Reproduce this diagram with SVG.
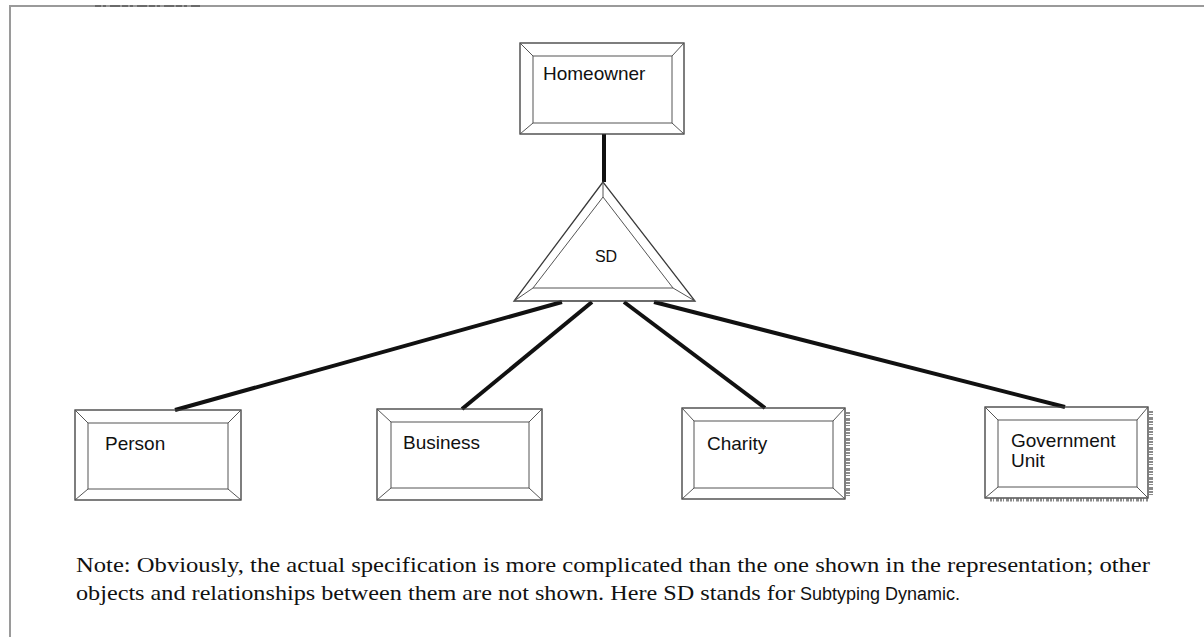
<svg xmlns="http://www.w3.org/2000/svg" width="1204" height="637" viewBox="0 0 1204 637">
  <style>
    .edge { fill: none; stroke: #3a3a3a; stroke-width: 1.3; }
    .bevel { fill: none; stroke: #555; stroke-width: 1; }
    .link { stroke: #111; stroke-width: 4; stroke-linecap: butt; }
    .label { font-family: "Liberation Sans", Arial, sans-serif; font-size: 19px; fill: #111; }
    .note { font-family: "Liberation Serif", "Times New Roman", serif; font-size: 21px; fill: #111; }
    .sans { font-family: "Liberation Sans", Arial, sans-serif; font-size: 18px; fill: #111; }
    .frame { stroke: #9a9a9a; stroke-width: 2; fill: none; }
    .grain { stroke: #8a8a8a; stroke-width: 4; stroke-dasharray: 2 1 1 2 3 1; fill: none; }
  </style>

  <rect width="1204" height="637" fill="#fff"/>

  <!-- page frame -->
  <path class="frame" d="M10 637 V6 H1204"/>
  <path d="M95 6 H200" stroke="#6a6a6a" stroke-width="2" stroke-dasharray="6 2 3 4 10 2"/>

  <!-- connectors -->
  <g id="connectors">
    <line class="link" x1="604" y1="134" x2="604" y2="182"/>
    <line class="link" x1="562" y1="302" x2="175" y2="410"/>
    <line class="link" x1="592" y1="302" x2="462" y2="409"/>
    <line class="link" x1="624" y1="302" x2="765" y2="408"/>
    <line class="link" x1="654" y1="302" x2="1065" y2="407"/>
  </g>

  <g id="homeowner">
    <rect class="edge" x="520" y="43" width="164" height="91"/>
    <rect class="bevel" x="533" y="56" width="139" height="67"/>
    <path class="bevel" d="M520 43 L533 56 M684 43 L672 56 M520 134 L533 123 M684 134 L672 123"/>
    <text class="label" x="543" y="80">Homeowner</text>
  </g>

  <g id="sd">
    <polygon class="edge" points="603,182 514,301 695,301"/>
    <polygon class="bevel" points="603,197 533,288 673,288"/>
    <path class="bevel" d="M603 182 L603 197 M514 301 L533 288 M695 301 L673 288"/>
    <text class="label" x="606" y="262" text-anchor="middle" style="font-size:16px">SD</text>
  </g>

  <g id="person">
    <rect class="edge" x="75" y="410" width="166" height="90"/>
    <rect class="bevel" x="88" y="423" width="140" height="66"/>
    <path class="bevel" d="M75 410 L88 423 M241 410 L228 423 M75 500 L88 489 M241 500 L228 489"/>
    <text class="label" x="105" y="450">Person</text>
  </g>

  <g id="business">
    <rect class="edge" x="377" y="409" width="165" height="91"/>
    <rect class="bevel" x="391" y="422" width="138" height="66"/>
    <path class="bevel" d="M377 409 L391 422 M542 409 L529 422 M377 500 L391 488 M542 500 L529 488"/>
    <text class="label" x="403" y="449">Business</text>
  </g>

  <g id="charity">
    <line class="grain" x1="848" y1="412" x2="848" y2="498"/>
    <rect class="edge" x="682" y="408" width="163" height="91"/>
    <rect class="bevel" x="694" y="421" width="139" height="67"/>
    <path class="bevel" d="M682 408 L694 421 M845 408 L833 421 M682 499 L694 488 M845 499 L833 488"/>
    <text class="label" x="707" y="450">Charity</text>
  </g>

  <g id="government-unit">
    <line class="grain" x1="1151" y1="411" x2="1151" y2="497"/>
    <line class="grain" x1="990" y1="500" x2="1148" y2="500" style="stroke-width:3"/>
    <rect class="edge" x="985" y="407" width="163" height="91"/>
    <rect class="bevel" x="998" y="420" width="139" height="67"/>
    <path class="bevel" d="M985 407 L998 420 M1148 407 L1137 420 M985 498 L998 487 M1148 498 L1137 487"/>
    <text class="label" x="1011" y="447">Government</text>
    <text class="label" x="1011" y="467">Unit</text>
  </g>

  <!-- footnote -->
  <text class="note" x="76" y="572" textLength="1074" lengthAdjust="spacingAndGlyphs">Note: Obviously, the actual specification is more complicated than the one shown in the representation; other</text>
  <text class="note" x="76" y="600" textLength="719" lengthAdjust="spacingAndGlyphs">objects and relationships between them are not shown. Here SD stands for</text>
  <text class="sans" x="800" y="600">Subtyping Dynamic.</text>
</svg>
